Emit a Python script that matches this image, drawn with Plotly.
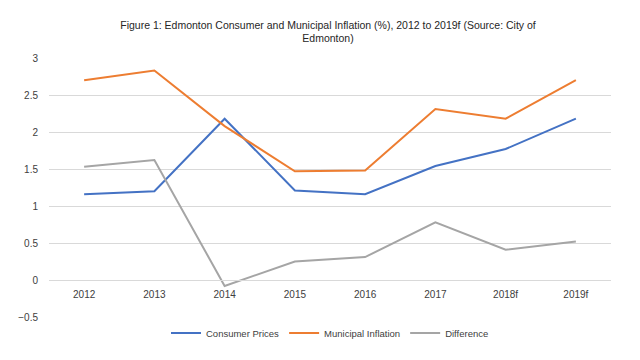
import plotly.graph_objects as go

categories = ["2012", "2013", "2014", "2015", "2016", "2017", "2018f", "2019f"]
consumer_prices = [1.16, 1.20, 2.18, 1.21, 1.16, 1.54, 1.77, 2.18]
municipal_inflation = [2.70, 2.83, 2.08, 1.47, 1.48, 2.31, 2.18, 2.70]
difference = [1.53, 1.62, -0.08, 0.25, 0.31, 0.78, 0.41, 0.52]

y_min, y_max = -0.5, 3.0

fig = go.Figure()
for name, vals, col in [
    ("Consumer Prices", consumer_prices, "#4472C4"),
    ("Municipal Inflation", municipal_inflation, "#ED7D31"),
    ("Difference", difference, "#A5A5A5"),
]:
    fig.add_trace(go.Scatter(x=categories, y=vals, mode="lines", name=name,
                             line=dict(color=col, width=2)))

fig.update_layout(
    width=640, height=360,
    paper_bgcolor="white", plot_bgcolor="white",
    margin=dict(l=41, r=37, t=50, b=51, autoexpand=False),
    title=dict(
        text="Figure 1: Edmonton Consumer and Municipal Inflation (%), 2012 to 2019f (Source: City of<br>Edmonton)",
        x=0.5, xanchor="center", y=0.943, yanchor="top",
        font=dict(family="Liberation Sans, sans-serif", size=10.5, color="#262626"),
    ),
    font=dict(family="Liberation Sans, sans-serif", size=10, color="#595959"),
    legend=dict(orientation="h", x=0.5, xanchor="center", yref="container", y=0.097, yanchor="middle",
                font=dict(size=9.5, color="#404040"), itemwidth=30, tracegroupgap=0),
    showlegend=True,
)
fig.update_yaxes(range=[y_min, y_max], dtick=0.5, showgrid=True, gridcolor="#D9D9D9",
                 gridwidth=1, zeroline=False, showline=False, ticks="",
                 tickfont=dict(size=10, color="#404040"), ticklabelstandoff=10)
fig.update_xaxes(range=[-0.5, len(categories) - 0.5],
                 anchor="free", position=(0 - y_min) / (y_max - y_min),
                 showgrid=False, zeroline=False, showline=True, linecolor="#D9D9D9",
                 linewidth=1, ticks="", tickfont=dict(size=10, color="#404040"),
                 ticklabelstandoff=5)

fig.write_html("out.html")
